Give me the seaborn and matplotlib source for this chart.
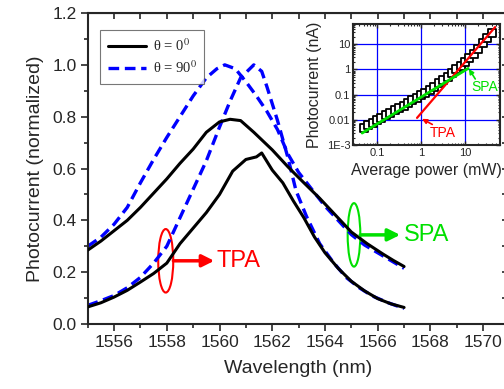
import matplotlib
matplotlib.use("Agg")
import matplotlib.pyplot as plt
import seaborn as sns
from matplotlib.patches import Ellipse
from matplotlib.ticker import MultipleLocator, FixedLocator, FixedFormatter, LogLocator, NullFormatter

# main panel: normalized photocurrent spectra
wl_spa_0 = [1555.0, 1555.5, 1556.0, 1556.5, 1557.0, 1557.5, 1558.0, 1558.5, 1559.0, 1559.5,
            1560.0, 1560.4, 1560.8, 1561.3, 1562.0, 1562.6, 1563.2, 1563.8, 1564.4, 1565.0,
            1565.6, 1566.2, 1566.6, 1567.0]
spa_0 = [0.285, 0.32, 0.36, 0.40, 0.45, 0.505, 0.56, 0.62, 0.675, 0.74,
         0.78, 0.79, 0.785, 0.74, 0.672, 0.606, 0.545, 0.485, 0.42, 0.355,
         0.31, 0.27, 0.245, 0.222]

wl_spa_90 = [1555.0, 1555.5, 1556.0, 1556.5, 1557.0, 1557.5, 1558.0, 1558.5, 1559.0, 1559.5,
             1559.9, 1560.2, 1560.6, 1561.0, 1561.4, 1561.8, 1562.2, 1562.6, 1563.0, 1563.5,
             1564.0, 1564.5, 1565.0, 1565.5, 1566.0, 1566.5, 1567.0]
spa_90 = [0.30, 0.335, 0.385, 0.45, 0.545, 0.635, 0.72, 0.80, 0.88, 0.95,
          0.985, 1.0, 0.985, 0.935, 0.88, 0.82, 0.75, 0.655, 0.585, 0.52,
          0.455, 0.40, 0.345, 0.305, 0.275, 0.245, 0.215]

wl_tpa_0 = [1555.0, 1555.5, 1556.0, 1556.5, 1557.0, 1557.5, 1558.0, 1558.5, 1559.0, 1559.5,
            1560.0, 1560.5, 1561.0, 1561.4, 1561.6, 1562.0, 1562.4, 1562.8, 1563.2, 1563.6,
            1564.0, 1564.5, 1565.0, 1565.5, 1566.0, 1566.5, 1567.0]
tpa_0 = [0.066, 0.082, 0.104, 0.13, 0.162, 0.195, 0.235, 0.31, 0.37, 0.43,
         0.50, 0.59, 0.635, 0.645, 0.66, 0.594, 0.545, 0.475, 0.41, 0.336,
         0.275, 0.215, 0.165, 0.128, 0.098, 0.078, 0.064]

wl_tpa_90 = [1555.0, 1555.5, 1556.0, 1556.5, 1557.0, 1557.5, 1558.0, 1558.5, 1559.0, 1559.5,
             1560.0, 1560.4, 1560.8, 1561.3, 1561.6, 1561.8, 1562.2, 1562.6, 1562.9, 1563.3,
             1563.8, 1564.3, 1564.8, 1565.3, 1565.8, 1566.4, 1567.0]
tpa_90 = [0.072, 0.09, 0.11, 0.14, 0.18, 0.235, 0.30, 0.41, 0.52, 0.63,
          0.76, 0.86, 0.95, 1.0, 0.975, 0.915, 0.785, 0.64, 0.515, 0.415,
          0.31, 0.24, 0.18, 0.14, 0.108, 0.082, 0.06]

# inset: photocurrent vs average power
power = [0.05, 0.063, 0.08, 0.1, 0.125, 0.16, 0.2, 0.25, 0.32, 0.4,
         0.5, 0.63, 0.8, 1.0, 1.25, 1.6, 2.0, 2.5, 3.2, 4.0,
         5.0, 6.3, 8.0, 10, 12.5, 16, 20, 25, 32, 40]
current = [0.0048, 0.006, 0.0076, 0.0095, 0.012, 0.015, 0.019, 0.024, 0.03, 0.037,
           0.047, 0.06, 0.075, 0.095, 0.12, 0.16, 0.21, 0.28, 0.38, 0.52,
           0.72, 1.0, 1.4, 2.0, 2.9, 4.3, 6.5, 11, 18, 28]
spa_fit_x = [0.046, 11.7]
spa_fit_y = [0.003, 1.1]
tpa_fit_x = [0.81, 48]
tpa_fit_y = [0.012, 48]

inset_xticks = [0.1, 1, 10]
inset_xticklabels = ['0.1', '1', '10']
inset_yticks = [0.001, 0.01, 0.1, 1, 10]
inset_yticklabels = ['1E-3', '0.01', '0.1', '1', '10']

sns.set_style("ticks")
plt.rcParams['font.family'] = ['Liberation Sans', 'DejaVu Sans']
plt.rcParams['mathtext.fontset'] = 'stix'

blue = '#0000ff'
green = '#00e000'
red = '#ff0000'
dash = (0, (3.2, 1.7))

fig = plt.figure(figsize=(5.04, 3.89), dpi=100)
ax = fig.add_axes([0.174, 0.167, 0.837, 0.7995])

sns.lineplot(x=wl_spa_0, y=spa_0, ax=ax, color='black', lw=2.2, label='θ = 0$^0$')
sns.lineplot(x=wl_spa_90, y=spa_90, ax=ax, color=blue, lw=2.4, linestyle=dash, label='θ = 90$^0$')
sns.lineplot(x=wl_tpa_0, y=tpa_0, ax=ax, color='black', lw=2.2)
sns.lineplot(x=wl_tpa_90, y=tpa_90, ax=ax, color=blue, lw=2.4, linestyle=dash)
# keep black lines above the dashed ones like the original
for ln in ax.lines:
    if ln.get_color() == 'black':
        ln.set_zorder(3)

ax.set_xlim(1555, 1571)
ax.set_ylim(0, 1.2)
ax.xaxis.set_major_locator(MultipleLocator(2))
ax.xaxis.set_minor_locator(MultipleLocator(1))
ax.yaxis.set_major_locator(MultipleLocator(0.2))
ax.yaxis.set_minor_locator(MultipleLocator(0.1))
ax.yaxis.set_major_formatter(plt.FuncFormatter(lambda v, p: f'{v:.1f}'))
ax.tick_params(which='major', direction='out', length=5, width=1.2, labelsize=12.5, pad=3)
ax.tick_params(which='minor', direction='out', length=3, width=1.2)
for s in ax.spines.values():
    s.set_linewidth(1.5)
    s.set_visible(True)

# top / right ticks point inward
top = ax.secondary_xaxis('top')
top.xaxis.set_major_locator(MultipleLocator(1))
top.tick_params(direction='in', length=4, width=1.2, labeltop=False)
right = ax.secondary_yaxis('right')
right.yaxis.set_major_locator(MultipleLocator(0.1))
right.tick_params(direction='in', length=6, width=1.2, labelright=False)

ax.set_xlabel('Wavelength (nm)', fontsize=14, labelpad=7)
ax.set_ylabel('Photocurrent (normalized)', fontsize=14, labelpad=6)

leg = ax.legend(loc='upper left', bbox_to_anchor=(0.03, 0.945), frameon=True, fancybox=False,
                prop={'family': 'Liberation Serif', 'size': 10.5}, handlelength=2.6,
                handletextpad=0.5, borderpad=0.5, labelspacing=0.4, borderaxespad=0)
leg.get_frame().set_edgecolor('#555555')
leg.get_frame().set_linewidth(0.8)

# TPA / SPA markers
ax.add_patch(Ellipse((1557.96, 0.244), 0.57, 0.245, fill=False, edgecolor=red, lw=1.5))
ax.annotate('', xy=(1559.8, 0.244), xytext=(1558.25, 0.244),
            arrowprops=dict(arrowstyle='-|>', color=red, lw=2.5, mutation_scale=18, shrinkA=0, shrinkB=0))
ax.text(1559.9, 0.244, 'TPA', color=red, fontsize=17, ha='left', va='center')

ax.add_patch(Ellipse((1565.1, 0.344), 0.48, 0.245, fill=False, edgecolor=green, lw=1.5))
ax.annotate('', xy=(1566.85, 0.344), xytext=(1565.34, 0.344),
            arrowprops=dict(arrowstyle='-|>', color=green, lw=2.5, mutation_scale=18, shrinkA=0, shrinkB=0))
ax.text(1567.0, 0.344, 'SPA', color=green, fontsize=17, ha='left', va='center')

# inset
ins = fig.add_axes([0.7004, 0.627, 0.2917, 0.311])
ins.set_xscale('log')
ins.set_yscale('log')
ins.grid(True, which='major', color=blue, lw=0.9)
ins.set_axisbelow(True)
sns.scatterplot(x=power, y=current, ax=ins, marker='s', s=30, facecolor='white',
                edgecolor='black', linewidth=1.3, zorder=2)
sns.lineplot(x=spa_fit_x, y=spa_fit_y, ax=ins, color=green, lw=2.0, zorder=4)
sns.lineplot(x=tpa_fit_x, y=tpa_fit_y, ax=ins, color=red, lw=1.6, zorder=3)
ins.set_xlim(0.0285, 62)
ins.set_ylim(0.001, 63)
ins.xaxis.set_major_locator(FixedLocator(inset_xticks))
ins.xaxis.set_major_formatter(FixedFormatter(inset_xticklabels))
ins.yaxis.set_major_locator(FixedLocator(inset_yticks))
ins.yaxis.set_major_formatter(FixedFormatter(inset_yticklabels))
ins.xaxis.set_minor_locator(LogLocator(base=10, subs=range(2, 10)))
ins.yaxis.set_minor_locator(LogLocator(base=10, subs=range(2, 10)))
ins.xaxis.set_minor_formatter(NullFormatter())
ins.yaxis.set_minor_formatter(NullFormatter())
ins.tick_params(which='major', direction='in', length=3, width=1, labelsize=8, pad=2,
                top=True, right=True)
ins.tick_params(which='minor', direction='in', length=1.5, width=0.8, top=True, right=True)
for s in ins.spines.values():
    s.set_linewidth(1.5)
ins.set_xlabel('Average power (mW)', fontsize=11.5, labelpad=4)
ins.set_ylabel('Photocurrent (nA)', fontsize=11.5, labelpad=3)

# inset labels with small arrows pointing at the fit ends
ins.text(28, 0.2, 'SPA', color=green, fontsize=10, ha='center', va='center')
ins.annotate('', xy=(12.2, 1.05), xytext=(17, 0.42),
             arrowprops=dict(arrowstyle='-|>', color=green, lw=1.2, mutation_scale=7, shrinkA=0, shrinkB=0))
ins.text(3.16, 0.003, 'TPA', color=red, fontsize=10, ha='center', va='center')
ins.annotate('', xy=(1.05, 0.011), xytext=(1.8, 0.0066),
             arrowprops=dict(arrowstyle='-|>', color=red, lw=1.2, mutation_scale=7, shrinkA=0, shrinkB=0))

fig.savefig('out.png', dpi=100)
